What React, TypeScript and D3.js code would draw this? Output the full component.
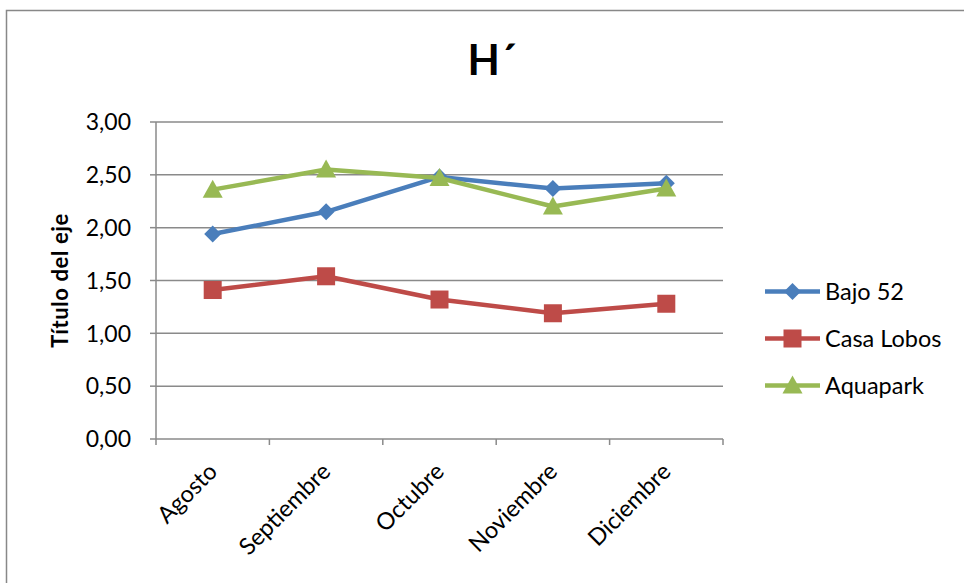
import React from "react";
import * as d3 from "d3";

const months = ["Agosto", "Septiembre", "Octubre", "Noviembre", "Diciembre"];
const bajo52 = [1.94, 2.15, 2.48, 2.37, 2.42];
const casaLobos = [1.41, 1.54, 1.32, 1.19, 1.28];
const aquapark = [2.36, 2.55, 2.47, 2.2, 2.37];
const yTicks = [0, 0.5, 1, 1.5, 2, 2.5, 3];

const seriesList = [
  { name: "Bajo 52", values: bajo52, color: "#4A7EBB", shape: "diamond" },
  { name: "Casa Lobos", values: casaLobos, color: "#BE4B48", shape: "square" },
  { name: "Aquapark", values: aquapark, color: "#98B954", shape: "triangle" },
];

const W = 964;
const H = 583;
const plot = { left: 156, right: 723, top: 122, bottom: 439 };
const FONT = "Lato, 'Open Sans', sans-serif";

function Marker({ shape, x, y, color }: { shape: string; x: number; y: number; color: string }) {
  if (shape === "diamond") {
    const s = 8.5;
    return <path d={`M${x},${y - s}L${x + s},${y}L${x},${y + s}L${x - s},${y}Z`} fill={color} />;
  }
  if (shape === "square") {
    const s = 9;
    return <rect x={x - s} y={y - s} width={2 * s} height={2 * s} fill={color} />;
  }
  const s = 10;
  return <path d={`M${x},${y - s}L${x + s},${y + s * 0.8}L${x - s},${y + s * 0.8}Z`} fill={color} />;
}

export default function App() {
  const x = d3.scaleBand<string>().domain(months).range([plot.left, plot.right]);
  const y = d3.scaleLinear().domain([0, 3]).range([plot.bottom, plot.top]);
  const cx = (m: string) => (x(m) as number) + x.bandwidth() / 2;
  const line = d3
    .line<number>()
    .x((_, i) => cx(months[i]))
    .y((v) => y(v));
  const fmt = (v: number) => v.toFixed(2).replace(".", ",");

  return (
    <svg
      width={W}
      height={H}
      style={{ position: "absolute", left: 0, top: 0, background: "#fff" }}
      fontFamily={FONT}
    >
      <rect x={6.5} y={10.5} width={W} height={H} fill="#fff" stroke="#888" strokeWidth={1.5} />
      <text x={492} y={75} textAnchor="middle" fontSize={42} fontWeight="bold" fill="#000">
        H´
      </text>

      {yTicks.map((t) => (
        <g key={t}>
          <line x1={plot.left} x2={plot.right} y1={y(t)} y2={y(t)} stroke="#8A8A8A" strokeWidth={1.5} />
          <line x1={plot.left - 6} x2={plot.left} y1={y(t)} y2={y(t)} stroke="#8A8A8A" strokeWidth={1.5} />
          <text x={plot.left - 25} y={y(t)} dy="0.36em" textAnchor="end" fontSize={23} fill="#000">
            {fmt(t)}
          </text>
        </g>
      ))}
      <line x1={plot.left} x2={plot.left} y1={plot.top} y2={plot.bottom} stroke="#8A8A8A" strokeWidth={1.5} />
      {months.map((m) => (
        <line
          key={m}
          x1={x(m) as number}
          x2={x(m) as number}
          y1={plot.bottom}
          y2={plot.bottom + 6}
          stroke="#8A8A8A"
          strokeWidth={1.5}
        />
      ))}
      <line x1={plot.right} x2={plot.right} y1={plot.bottom} y2={plot.bottom + 6} stroke="#8A8A8A" strokeWidth={1.5} />

      <text
        transform={`translate(68,${(plot.top + plot.bottom) / 2}) rotate(-90)`}
        textAnchor="middle"
        fontSize={22}
        fontWeight="bold"
        letterSpacing={0.6}
        fill="#000"
      >
        Título del eje
      </text>

      {months.map((m) => (
        <text
          key={m}
          transform={`translate(${cx(m) + 6},${plot.bottom + 34}) rotate(-45)`}
          textAnchor="end"
          fontSize={23.5}
          fill="#000"
        >
          {m}
        </text>
      ))}

      {seriesList.map((s) => (
        <g key={s.name}>
          <path d={line(s.values) || ""} fill="none" stroke={s.color} strokeWidth={4.5} strokeLinejoin="round" />
          {s.values.map((v, i) => (
            <Marker key={i} shape={s.shape} x={cx(months[i])} y={y(v)} color={s.color} />
          ))}
        </g>
      ))}

      {seriesList.map((s, i) => {
        const ly = 291.5 + i * 47;
        return (
          <g key={s.name}>
            <line x1={765} x2={820} y1={ly} y2={ly} stroke={s.color} strokeWidth={4.5} />
            <Marker shape={s.shape} x={792.5} y={ly} color={s.color} />
            <text x={825} y={ly} dy="0.36em" fontSize={23.5} fill="#000">
              {s.name}
            </text>
          </g>
        );
      })}
    </svg>
  );
}
